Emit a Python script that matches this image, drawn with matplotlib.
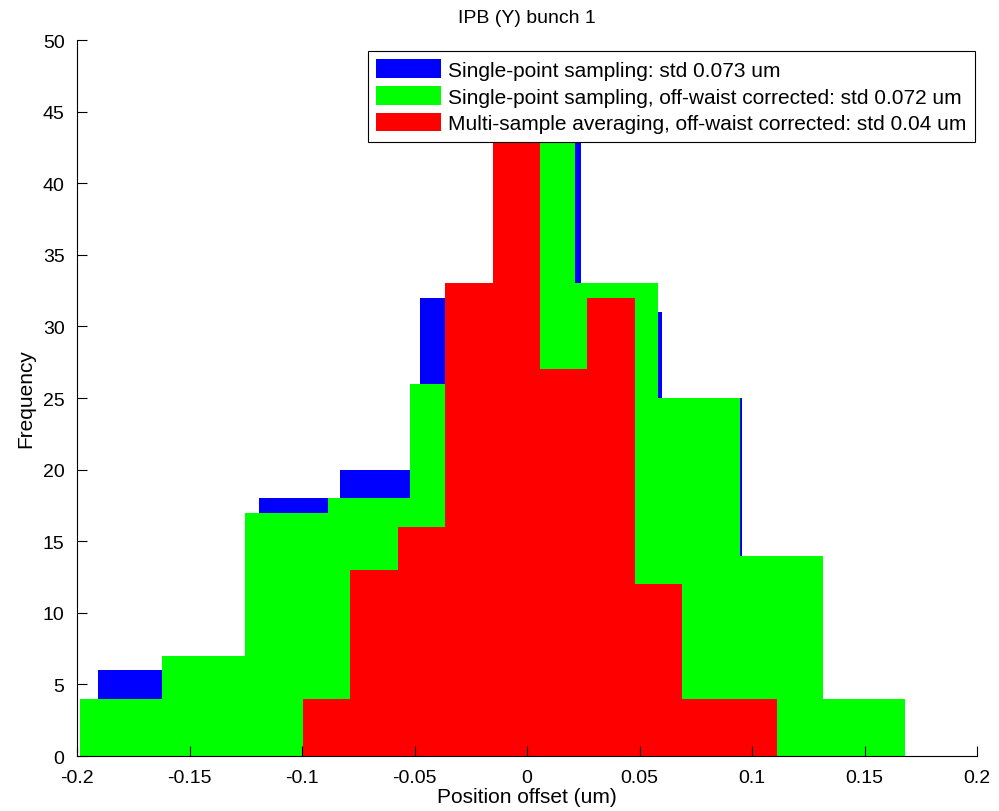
import numpy as np
import matplotlib
matplotlib.use("Agg")
import matplotlib.pyplot as plt
from matplotlib.ticker import FuncFormatter

plt.rcParams['font.family'] = ['Liberation Sans', 'DejaVu Sans']
plt.rcParams['axes.unicode_minus'] = False

# histogram bin centres (um) and counts per bin
centers_single = [-0.1728, -0.1370, -0.1012, -0.0654, -0.0296, 0.0062, 0.0420, 0.0778, 0.1136, 0.1494]
counts_single = [6, 3, 18, 20, 32, 44, 31, 25, 13, 1]

centers_corr = [-0.1803, -0.1437, -0.1070, -0.0703, -0.0337, 0.0030, 0.0397, 0.0763, 0.1130, 0.1497]
counts_corr = [4, 7, 17, 18, 26, 45, 33, 25, 14, 4]

centers_avg = [-0.0890, -0.0680, -0.0469, -0.0258, -0.0048, 0.0163, 0.0374, 0.0585, 0.0795, 0.1006]
counts_avg = [4, 13, 16, 33, 48, 27, 32, 12, 4, 4]

labels = [
    'Single-point sampling: std 0.073 um',
    'Single-point sampling, off-waist corrected: std 0.072 um',
    'Multi-sample averaging, off-waist corrected: std 0.04 um',
]
colors = ['#0000ff', '#00ff00', '#ff0000']

fig = plt.figure(figsize=(9.99, 8.12), dpi=100)
ax = fig.add_axes([0.0771, 0.0677, 0.9009, 0.8818])

series = [(centers_single, counts_single), (centers_corr, counts_corr), (centers_avg, counts_avg)]
for (c, n), col, lab in zip(series, colors, labels):
    c = np.array(c)
    w = np.diff(c).mean()
    ax.bar(c, n, width=w, color=col, edgecolor='none', linewidth=0, label=lab)

ax.set_xlim(-0.2, 0.2)
ax.set_ylim(0, 50)
ax.set_xticks(np.arange(-0.2, 0.2001, 0.05))
ax.set_yticks(np.arange(0, 51, 5))
ax.xaxis.set_major_formatter(FuncFormatter(lambda v, p: '%g' % (round(v, 3) + 0.0)))
ax.tick_params(direction='in', length=7, width=0.8, labelsize=14)
ax.tick_params(axis='x', pad=9)
ax.tick_params(axis='y', pad=9)

for s in ['top', 'right']:
    ax.spines[s].set_visible(False)
for s in ['left', 'bottom']:
    ax.spines[s].set_linewidth(0.8)
    ax.spines[s].set_color('black')

ax.set_title('IPB (Y) bunch 1', fontsize=14, pad=13)
ax.set_xlabel('Position offset (um)', fontsize=15, labelpad=1)
ax.set_ylabel('Frequency', fontsize=15, labelpad=5)

leg = ax.legend(loc='upper right', bbox_to_anchor=(0.9978, 0.9846), borderaxespad=0,
                fontsize=15, fancybox=False, framealpha=1, edgecolor='black',
                handlelength=3.1, handleheight=1.0, handletextpad=0.35,
                labelspacing=0.3, borderpad=0.4)
leg.get_frame().set_linewidth(0.8)

fig.savefig('out.png', dpi=100)
